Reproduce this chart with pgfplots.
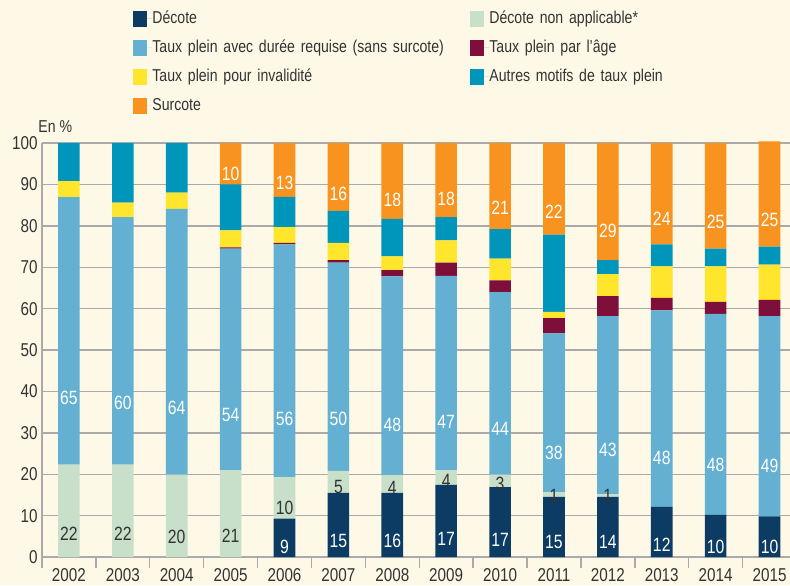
\documentclass[border=0pt]{standalone}
\usepackage{fontspec}
\setmainfont{Liberation Sans}[FakeStretch=0.82]
\usepackage{pgfplots}
\usepackage{pgfplotstable}
\pgfplotsset{compat=1.18}
\definecolor{cdec}{RGB}{12,60,100}
\definecolor{cnon}{RGB}{200,223,202}
\definecolor{cplein}{RGB}{99,176,211}
\definecolor{cage}{RGB}{126,14,58}
\definecolor{cinv}{RGB}{255,229,44}
\definecolor{caut}{RGB}{0,150,187}
\definecolor{csur}{RGB}{247,147,30}
\definecolor{cbg}{RGB}{254,249,231}
\definecolor{cgrid}{RGB}{170,170,170}
\definecolor{ctxt}{RGB}{51,51,51}

\pgfplotstableread{
x dec non plein age inv aut sur ldec lnon lplein lsur
0 0 22.3 64.6 0 3.9 9.2 0 {} 22 65 {}
1 0 22.3 59.8 0 3.5 14.4 0 {} 22 60 {}
2 0 19.9 64.2 0 3.9 12.0 0 {} 20 64 {}
3 0 20.9 53.6 0.3 4.1 11.1 10.0 {} 21 54 10
4 9.3 10.0 56.2 0.4 3.8 7.3 13.0 9 10 56 13
5 15.5 5.3 50.3 0.6 4.2 7.7 16.4 15 5 50 16
6 15.5 4.3 48.0 1.5 3.3 9.1 18.3 16 4 48 18
7 17.4 3.5 47.0 3.2 5.4 5.6 17.9 17 4 47 18
8 16.9 3.0 44.1 2.8 5.3 7.1 20.8 17 3 44 21
9 14.5 1.1 38.4 3.7 1.5 18.7 22.1 15 1 38 22
10 14.5 0.6 43.1 4.8 5.3 3.4 28.3 14 1 43 29
11 12.1 0 47.5 3.0 7.6 5.3 24.5 12 {} 48 24
12 10.2 0 48.5 2.9 8.6 4.3 25.5 10 {} 48 25
13 9.8 0 48.4 3.9 8.5 4.4 25.4 10 {} 49 25
}\data

\pgfplotsset{
  lab/.style 2 args={
    nodes near coords,
    point meta=explicit symbolic,
    visualization depends on={\thisrow{#1}\as\rawy},
    every node near coord/.append style={anchor=center, text=#2,
      font=\fontsize{9.6}{11}\selectfont,
      shift={(axis direction cs:0,-\rawy/4)}},
  },
}

\begin{document}
\begin{tikzpicture}
\fill[cbg] (-21pt,-14pt) rectangle (374pt,278.5pt);
\begin{axis}[
  name=ax,
  scale only axis,
  width=374pt, height=207pt,
  ybar stacked,
  bar width=10.8pt,
  xmin=-0.5, xmax=13.38,
  ymin=0, ymax=100,
  clip=false,
  axis x line*=bottom,
  axis y line*=left,
  axis line style={color=cgrid, line width=0.7pt},
  ymajorgrids,
  grid style={color=cgrid, line width=0.7pt},
  ytick={0,10,...,100},
  xtick={0,...,13},
  xticklabels={2002,2003,2004,2005,2006,2007,2008,2009,2010,2011,2012,2013,2014,2015},
  minor xtick={-0.5,0.5,...,12.5},
  major tick length=0pt,
  minor tick length=5.5pt,
  tick align=outside,
  minor tick style={color=cgrid, line width=0.7pt},
  major tick style={draw=none},
  /pgf/number format/assume math mode=true,
  tick label style={font=\fontsize{9.3}{10}\selectfont, text=ctxt},
  yticklabel style={inner sep=0pt, xshift=-2pt},
  xticklabel style={inner sep=0pt, yshift=-5.5pt},
  legend columns=2,
  legend cell align=left,
  legend style={at={(0,1)}, anchor=north west, xshift=45.5pt, yshift=66.5pt,
    draw=none, fill=none, inner sep=0pt, row sep=6pt, column sep=0pt,
    font=\fontsize{8.6}{10}\selectfont, text=ctxt,
    nodes={inner sep=0pt, text width=159pt, text height=6.5pt, text depth=2pt}},
  legend image code/.code={\fill[#1] (0pt,-4pt) rectangle (7pt,4pt); \path (0pt,0pt) -- (9.5pt,0pt);},
]
\addplot[fill=cdec, draw=none, lab={dec}{white}] table[x=x, y=dec, meta=ldec] {\data};
\addlegendentry{Décote}
\addplot[fill=cnon, draw=none, lab={non}{ctxt}] table[x=x, y=non, meta=lnon] {\data};
\addlegendentry{Décote non applicable*}
\addplot[fill=cplein, draw=none, lab={plein}{white}] table[x=x, y=plein, meta=lplein] {\data};
\addlegendentry{Taux plein avec durée requise (sans surcote)}
\addplot[fill=cage, draw=none] table[x=x, y=age] {\data};
\addlegendentry{Taux plein par l’âge}
\addplot[fill=cinv, draw=none] table[x=x, y=inv] {\data};
\addlegendentry{Taux plein pour invalidité}
\addplot[fill=caut, draw=none] table[x=x, y=aut] {\data};
\addlegendentry{Autres motifs de taux plein}
\addplot[fill=csur, draw=none, lab={sur}{white}] table[x=x, y=sur, meta=lsur] {\data};
\addlegendentry{Surcote}
\node[anchor=west, inner sep=0pt, text=ctxt, font=\fontsize{8.6}{10}\selectfont] at ([xshift=-2pt, yshift=8pt]rel axis cs:0,1) {En \%};
\end{axis}
\pgfresetboundingbox
\path[use as bounding box] (-21pt,-14pt) rectangle (374pt,278.5pt);
\end{tikzpicture}
\end{document}
